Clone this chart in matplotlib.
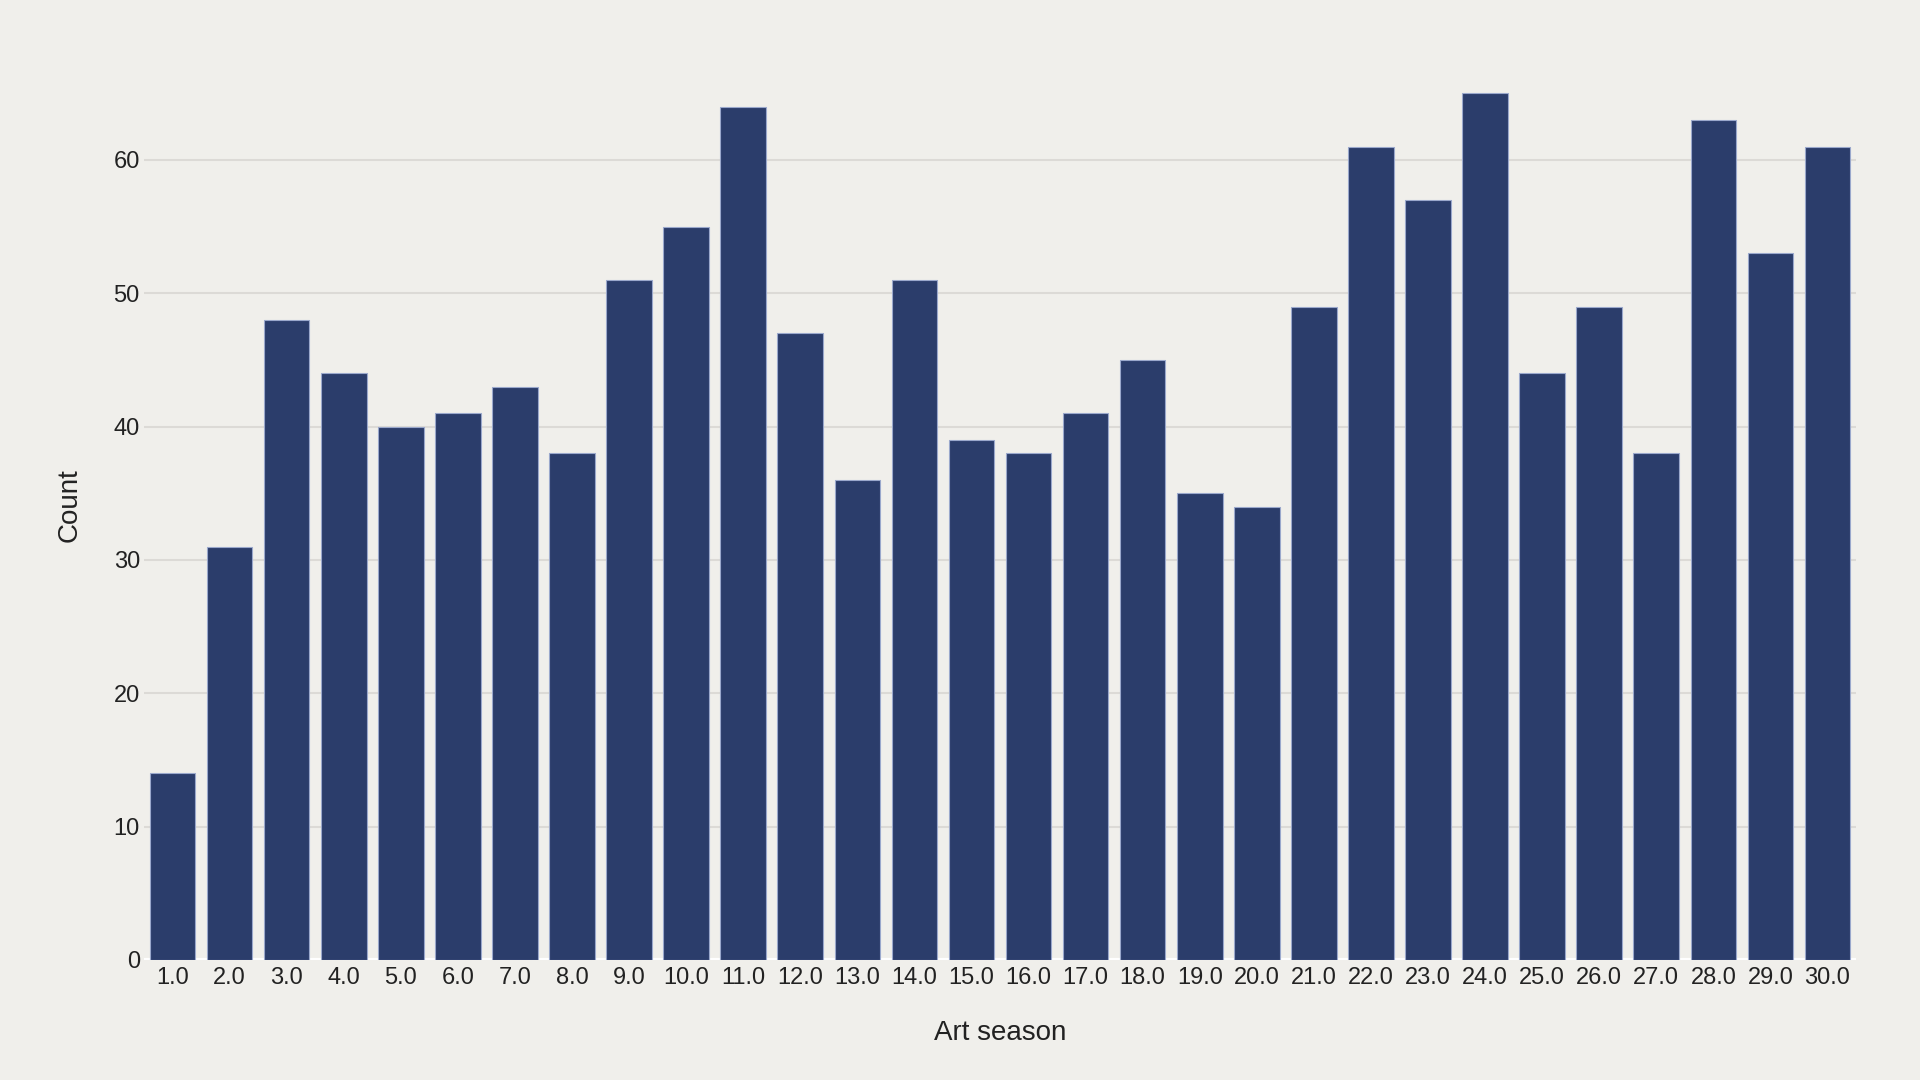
import matplotlib
matplotlib.use("Agg")
import matplotlib.pyplot as plt

seasons = [f"{i}.0" for i in range(1, 31)]
counts = [14, 31, 48, 44, 40, 41, 43, 38, 51, 55, 64, 47, 36, 51, 39, 38, 41, 45,
          35, 34, 49, 61, 57, 65, 44, 49, 38, 63, 53, 61]

plt.rcParams['font.family'] = ['Liberation Sans', 'DejaVu Sans']
bg = '#F0EFEB'
fig = plt.figure(figsize=(19.2, 10.8), dpi=100, facecolor=bg)
ax = fig.add_axes([144/1920, 120/1080, (1856-144)/1920, (960-50)/1080], facecolor=bg)

x = list(range(len(seasons)))
ax.bar(x, counts, width=0.8, color='#2B3D6B', edgecolor='#9AA8CC', linewidth=0.8, zorder=3)
ax.set_xlim(-0.5, len(seasons) - 0.5)
ax.set_ylim(0, 68.25)
ax.set_xticks(x)
ax.set_xticklabels(seasons)
ax.set_yticks([0, 10, 20, 30, 40, 50, 60])
ax.tick_params(axis='both', length=0, labelsize=17, colors='#222222')
ax.tick_params(axis='x', pad=5)
ax.tick_params(axis='y', pad=3)
for s in ax.spines.values():
    s.set_visible(False)
for v in [10, 20, 30, 40, 50, 60]:
    ax.axhline(v, color='#DCDAD6', linewidth=1.5, zorder=1)
ax.axhline(0, color='white', linewidth=3, zorder=2)
ax.set_xlabel('Art season', fontsize=20, color='#222222', labelpad=22)
ax.set_ylabel('Count', fontsize=20, color='#222222', labelpad=22)

fig.savefig('out.png', dpi=100, facecolor=bg)
